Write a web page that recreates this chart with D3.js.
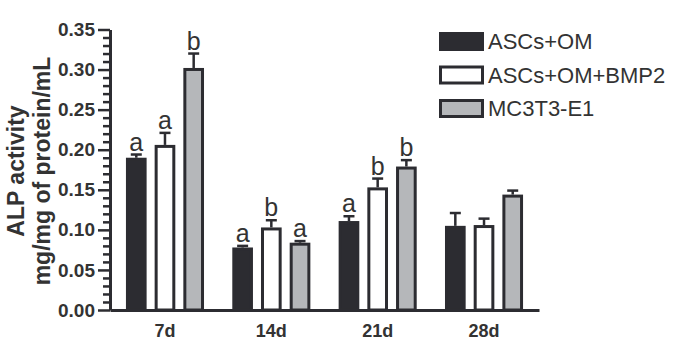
<!DOCTYPE html>
<html>
<head>
<meta charset="utf-8">
<script src="https://cdn.jsdelivr.net/npm/d3@7"></script>
<style>
  body { margin: 0; background: #fff; }
  svg { display: block; font-family: "Liberation Sans", Arial, sans-serif; }
</style>
</head>
<body>
<div id="app"></div>
<script>
// data
var days = ["7d", "14d", "21d", "28d"];
var groups = ["ASCs+OM", "ASCs+OM+BMP2", "MC3T3-E1"];
var means = [
  [0.190, 0.206, 0.302],
  [0.078, 0.103, 0.084],
  [0.111, 0.153, 0.179],
  [0.105, 0.106, 0.144]
];
var errs = [
  [0.004, 0.015, 0.018],
  [0.002, 0.009, 0.002],
  [0.006, 0.011, 0.008],
  [0.016, 0.008, 0.005]
];
var letters = [
  ["a", "a", "b"],
  ["a", "b", "a"],
  ["a", "b", "b"],
  ["", "", ""]
];
var yTicks = [0, 0.05, 0.10, 0.15, 0.20, 0.25, 0.30, 0.35];

var fills = ["#2c2c31", "#ffffff", "#b5b7ba"];
var ink = "#2c2c31";

var width = 677, height = 342;

var svg = d3.select("#app").append("svg")
    .attr("width", width)
    .attr("height", height);

var x0 = d3.scaleBand()
    .domain(days)
    .range([110, 539])
    .paddingInner(0.266)
    .paddingOuter(0.15);

var x1 = d3.scaleBand()
    .domain(groups)
    .range([0, x0.bandwidth()])
    .paddingInner(0.28);

var y = d3.scaleLinear()
    .domain([0, 0.35])
    .range([310, 29.5]);

// minor ticks every 0.01
var minor = d3.range(0, 0.351, 0.01).filter(function(v) {
  return Math.abs(v * 20 - Math.round(v * 20)) > 1e-6;
});

svg.append("g")
    .attr("transform", "translate(110,0)")
    .call(d3.axisLeft(y).tickValues(minor).tickSize(7).tickFormat(""))
    .call(function(g) { g.select(".domain").remove(); })
    .selectAll("line").attr("stroke", ink).attr("stroke-width", 2.5);

var yAxis = svg.append("g")
    .attr("transform", "translate(110,0)")
    .call(d3.axisLeft(y).tickValues(yTicks).tickSize(12).tickSizeOuter(0)
      .tickPadding(3).tickFormat(d3.format(".2f")));
yAxis.select(".domain").attr("stroke", ink).attr("stroke-width", 3);
yAxis.selectAll(".tick line").attr("stroke", ink).attr("stroke-width", 2.5);
yAxis.selectAll(".tick text")
    .attr("fill", "#333")
    .attr("font-size", 19)
    .attr("font-weight", "bold")
    .attr("font-family", "Liberation Sans, Arial, sans-serif");

// bars
var group = svg.selectAll(".day")
  .data(days)
  .enter().append("g")
    .attr("class", "day")
    .attr("transform", function(d) { return "translate(" + x0(d) + ",0)"; });

var cells = group.selectAll(".bar")
  .data(function(d, i) {
    return groups.map(function(g, j) {
      return { g: g, j: j, v: means[i][j], e: errs[i][j], l: letters[i][j] };
    });
  })
  .enter().append("g")
    .attr("class", "bar");

// error whiskers (upper only)
cells.append("line")
    .attr("x1", function(d) { return x1(d.g) + x1.bandwidth() / 2; })
    .attr("x2", function(d) { return x1(d.g) + x1.bandwidth() / 2; })
    .attr("y1", function(d) { return y(d.v); })
    .attr("y2", function(d) { return y(d.v + d.e); })
    .attr("stroke", ink).attr("stroke-width", 2.5);
cells.append("line")
    .attr("x1", function(d) { return x1(d.g) + x1.bandwidth() / 2 - 5.5; })
    .attr("x2", function(d) { return x1(d.g) + x1.bandwidth() / 2 + 5.5; })
    .attr("y1", function(d) { return y(d.v + d.e); })
    .attr("y2", function(d) { return y(d.v + d.e); })
    .attr("stroke", ink).attr("stroke-width", 2.5);

cells.append("rect")
    .attr("x", function(d) { return x1(d.g) + 1.5; })
    .attr("width", x1.bandwidth() - 3)
    .attr("y", function(d) { return y(d.v) + 1.5; })
    .attr("height", function(d) { return y(0) - y(d.v) - 1.5; })
    .attr("fill", function(d) { return fills[d.j]; })
    .attr("stroke", ink)
    .attr("stroke-width", 3);

cells.append("text")
    .attr("x", function(d) { return x1(d.g) + x1.bandwidth() / 2; })
    .attr("y", function(d) { return y(d.v + d.e) - 4; })
    .attr("text-anchor", "middle")
    .attr("font-size", 25)
    .attr("fill", "#333")
    .text(function(d) { return d.l; });

// x axis
var xAxis = svg.append("g")
    .attr("transform", "translate(0,310)")
    .call(d3.axisBottom(x0).tickSize(0).tickSizeOuter(0).tickPadding(14));
xAxis.select(".domain").attr("stroke", ink).attr("stroke-width", 3);
xAxis.selectAll(".tick text")
    .attr("fill", "#333")
    .attr("font-size", 18)
    .attr("font-weight", "bold")
    .attr("font-family", "Liberation Sans, Arial, sans-serif");

// y title
var title = svg.append("text")
    .attr("transform", "translate(24,171) rotate(-90)")
    .attr("text-anchor", "middle")
    .attr("font-size", 23)
    .attr("font-weight", "bold")
    .attr("fill", "#333");
title.append("tspan").attr("x", 0).attr("y", 0).text("ALP activity");
title.append("tspan").attr("x", 0).attr("y", 26).text("mg/mg of protein/mL");

// legend
var legend = svg.selectAll(".legend")
  .data(groups)
  .enter().append("g")
    .attr("class", "legend")
    .attr("transform", function(d, i) { return "translate(439," + (32 + i * 33.5) + ")"; });

legend.append("rect")
    .attr("x", 1.5).attr("y", 1.5)
    .attr("width", 42).attr("height", 16)
    .attr("fill", function(d, i) { return fills[i]; })
    .attr("stroke", ink).attr("stroke-width", 3);

legend.append("text")
    .attr("x", 49)
    .attr("y", 17)
    .attr("font-size", 22)
    .attr("fill", "#333")
    .text(function(d) { return d; });
</script>
</body>
</html>
